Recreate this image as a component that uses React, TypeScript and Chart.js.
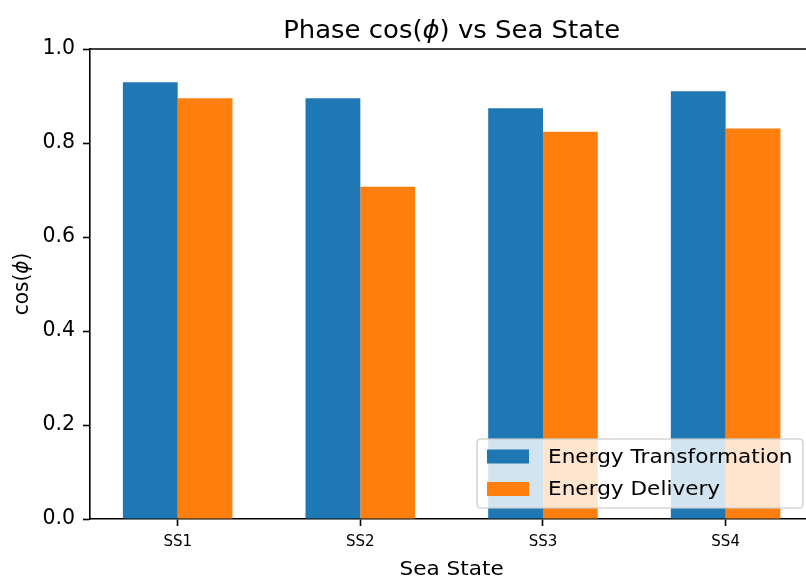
import React, { useEffect, useRef } from "react";
import { Chart, registerables } from "chart.js";

Chart.register(...registerables);

const categories = ["SS1", "SS2", "SS3", "SS4"];
const energyTransformation = [0.929, 0.895, 0.874, 0.910];
const energyDelivery = [0.895, 0.707, 0.824, 0.831];
const yTicks = [0.0, 0.2, 0.4, 0.6, 0.8, 1.0];
const seriesNames = ["Energy Transformation", "Energy Delivery"];
// title and y label: [text, italic] segments (matplotlib mathtext \phi is italic)
const TITLE: [string, boolean][] = [["Phase cos(", false], ["\u03D5", true], [") vs Sea State", false]];
const X_LABEL = "Sea State";
const Y_LABEL: [string, boolean][] = [["cos(", false], ["\u03D5", true], [")", false]];

const FONT = '"DejaVu Sans", sans-serif';
const BLUE = "#1f77b4";
const ORANGE = "#ff7f0e";
const SX = 1.08; // horizontal stretch of the reference text

function stretchedText(ctx: any, text: string, x: number, y: number) {
  ctx.save();
  ctx.translate(x, y);
  ctx.scale(SX, 1);
  ctx.fillText(text, 0, 0);
  ctx.restore();
}

// draws centered mixed upright/italic text at current transform origin
function mixedCentered(ctx: any, segs: [string, boolean][], size: number) {
  const fontOf = (it: boolean) => `${it ? "italic " : ""}${size}px ${FONT}`;
  let total = 0;
  const widths = segs.map(([t, it]) => {
    ctx.font = fontOf(it);
    const w = ctx.measureText(t).width;
    total += w;
    return w;
  });
  let x = -total / 2;
  ctx.textAlign = "left";
  segs.forEach(([t, it], i) => {
    ctx.font = fontOf(it);
    ctx.fillText(t, x, 0);
    x += widths[i];
  });
}

const decor = {
  id: "decor",
  afterDraw(chart: any) {
    const { ctx, chartArea, scales } = chart;
    const x = scales.x;
    ctx.save();
    // top spine
    ctx.strokeStyle = "#000";
    ctx.lineWidth = 1.6;
    ctx.beginPath();
    ctx.moveTo(chartArea.left, chartArea.top);
    ctx.lineTo(chartArea.right, chartArea.top);
    ctx.stroke();

    const cx = x.getPixelForValue((categories.length - 1) / 2);
    ctx.fillStyle = "#000";
    ctx.textBaseline = "alphabetic";

    ctx.save();
    ctx.translate(cx, chartArea.top - 11);
    ctx.scale(SX, 1);
    mixedCentered(ctx, TITLE, 24);
    ctx.restore();

    ctx.textAlign = "center";
    ctx.font = `20px ${FONT}`;
    stretchedText(ctx, X_LABEL, cx, 575);

    ctx.save();
    ctx.translate(28, (chartArea.top + chartArea.bottom) / 2);
    ctx.rotate(-Math.PI / 2);
    ctx.scale(1, SX);
    mixedCentered(ctx, Y_LABEL, 20);
    ctx.restore();

    // legend
    const right = 803;
    const bottom = chartArea.bottom - 11;
    const left = 477;
    const top = 439;
    const r = 4;
    ctx.beginPath();
    ctx.moveTo(left + r, top);
    ctx.lineTo(right - r, top);
    ctx.quadraticCurveTo(right, top, right, top + r);
    ctx.lineTo(right, bottom - r);
    ctx.quadraticCurveTo(right, bottom, right - r, bottom);
    ctx.lineTo(left + r, bottom);
    ctx.quadraticCurveTo(left, bottom, left, bottom - r);
    ctx.lineTo(left, top + r);
    ctx.quadraticCurveTo(left, top, left + r, top);
    ctx.closePath();
    ctx.fillStyle = "rgba(255,255,255,0.8)";
    ctx.fill();
    ctx.strokeStyle = "rgba(204,204,204,0.8)";
    ctx.lineWidth = 1.6;
    ctx.stroke();

    const ds = chart.data.datasets;
    const rows = [456.5, 489];
    ctx.font = `20px ${FONT}`;
    ctx.textAlign = "left";
    ctx.textBaseline = "middle";
    ds.forEach((d: any, i: number) => {
      ctx.fillStyle = d.backgroundColor;
      ctx.fillRect(487, rows[i] - 7, 42, 14);
      ctx.fillStyle = "#000";
      stretchedText(ctx, d.label, 548, rows[i] + 1);
    });
    ctx.restore();
  },
};

export default function App() {
  const ref = useRef<HTMLCanvasElement | null>(null);
  useEffect(() => {
    if (!ref.current) return;
    const chart = new Chart(ref.current, {
      type: "bar",
      data: {
        datasets: [
          {
            label: seriesNames[0],
            data: energyTransformation.map((v, i) => ({ x: i, y: v })),
            backgroundColor: BLUE,
            borderWidth: 0,
            categoryPercentage: 0.6,
            barPercentage: 1.0,
          },
          {
            label: seriesNames[1],
            data: energyDelivery.map((v, i) => ({ x: i, y: v })),
            backgroundColor: ORANGE,
            borderWidth: 0,
            categoryPercentage: 0.6,
            barPercentage: 1.0,
          },
        ] as any,
      },
      options: {
        animation: false,
        responsive: true,
        maintainAspectRatio: false,
        events: [],
        layout: { padding: { top: 49, left: 0, right: 0, bottom: 0 } },
        plugins: {
          legend: { display: false },
          title: { display: false },
          tooltip: { enabled: false },
        },
        scales: {
          x: {
            type: "linear",
            offset: false,
            min: -0.48,
            max: 3.44,
            afterBuildTicks: (axis: any) => {
              axis.ticks = categories.map((_, i) => ({ value: i }));
            },
            afterFit: (scale: any) => {
              scale.height = 59;
            },
            ticks: {
              callback: (v: any) => categories[Math.round(Number(v))] ?? "",
              font: { family: FONT, size: 15 },
              color: "#000",
              padding: 7,
              maxRotation: 0,
              autoSkip: false,
            },
            grid: {
              display: true,
              offset: false,
              drawOnChartArea: false,
              drawTicks: true,
              tickLength: 7,
              tickWidth: 1.6,
              tickColor: "#000",
            },
            border: { display: true, color: "#000", width: 1.6 },
          },
          y: {
            type: "linear",
            min: 0,
            max: 1,
            afterBuildTicks: (axis: any) => {
              axis.ticks = yTicks.map((v) => ({ value: v }));
            },
            afterFit: (scale: any) => {
              scale.width = 90;
            },
            ticks: {
              callback: (v: any) => Number(v).toFixed(1),
              font: { family: FONT, size: 20.5 },
              color: "#000",
              padding: 8,
            },
            grid: {
              display: true,
              drawOnChartArea: false,
              drawTicks: true,
              tickLength: 7,
              tickWidth: 1.6,
              tickColor: "#000",
            },
            border: { display: true, color: "#000", width: 1.6 },
          },
        },
      },
      plugins: [decor],
    });
    return () => chart.destroy();
  }, []);
  return (
    <div style={{ position: "absolute", left: 0, top: 0, width: 806, height: 578, background: "#fff" }}>
      <canvas ref={ref} />
    </div>
  );
}
